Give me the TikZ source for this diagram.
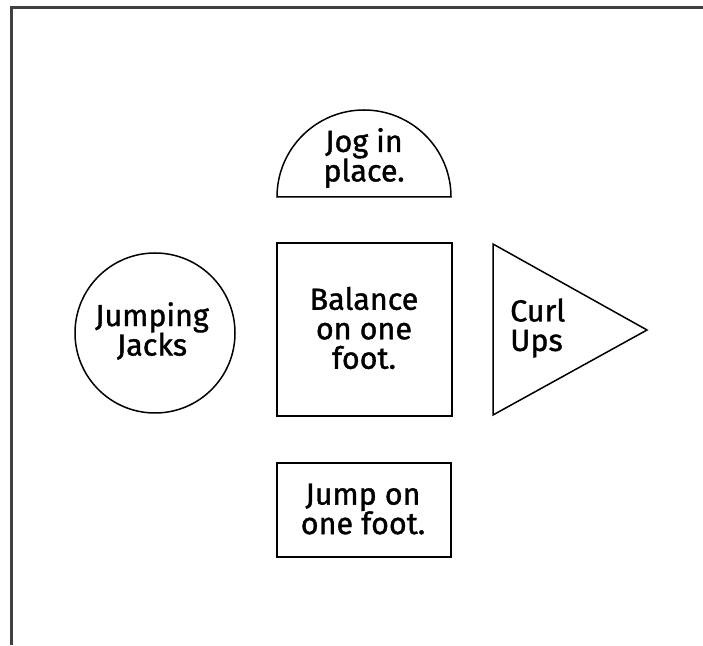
\documentclass[tikz,border=0pt]{standalone}
\usepackage{fontspec}
\setmainfont{Fira Sans}
\newfontfamily\labelfont{Fira Sans}[FakeBold=1.2]
\begin{document}
\begin{tikzpicture}[x=1pt,y=1pt,
  shape line/.style={draw=black,line width=1.5pt},
  label text/.style={font=\labelfont\fontsize{30.5}{29.5}\selectfont,align=center,inner sep=0pt,text=black}]
\useasboundingbox (0,0) rectangle (703,645);
\fill[white] (0,0) rectangle (703,645);
% frame
\coordinate (ftr) at (703,637);
\coordinate (ftl) at (11,637);
\coordinate (fbl) at (11,0);
\draw[line width=3pt,draw=black!75] (ftr) -- (ftl) -- (fbl);
% half circle
\draw[shape line] (277,448) arc (180:0:87) -- cycle;
\node[label text] (jog) at (364,487) {Jog in\\place.};
% circle
\draw[shape line] (155,312) circle (80);
\node[label text] (jj) at (152,314) {Jumping\\Jacks};
% square
\draw[shape line] (277,229) rectangle (452,402);
\node[label text] (bal) at (364,317) {Balance\\on one\\foot.};
% triangle
\draw[shape line] (493,401) -- (647,315) -- (493,230) -- cycle;
\node[label text,align=left,anchor=west] (curl) at (510,317) {Curl\\Ups};
% jump box
\draw[shape line] (277,88) rectangle (451,182);
\node[label text] (jump) at (363,136) {Jump on\\one foot.};
\end{tikzpicture}
\end{document}
